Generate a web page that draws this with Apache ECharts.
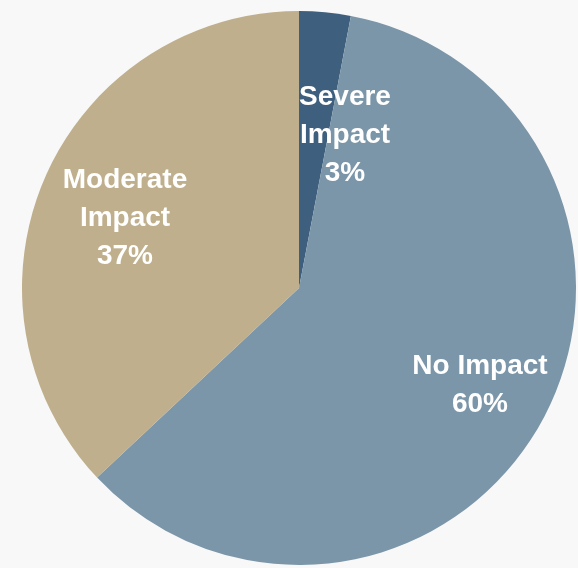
<!DOCTYPE html>
<html>
<head>
<meta charset="utf-8">
<script src="https://cdn.jsdelivr.net/npm/echarts@6/dist/echarts.min.js"></script>
<style>
html,body{margin:0;padding:0;background:#f8f8f8;}
#c{width:578px;height:568px;}
</style>
</head>
<body>
<div id="c"></div>
<script>
var categories = ["Severe\nImpact", "No Impact", "Moderate\nImpact"];
var values = [3, 60, 37];
var colors = ["#3e5f7d", "#7b96a9", "#bfaf8d"];
var labelPos = [[345, 135], [480, 385], [125, 218]];

var chart = echarts.init(document.getElementById('c'), null, {renderer: 'canvas'});
var data = categories.map(function (c, i) {
  return {name: c, value: values[i], itemStyle: {color: colors[i]}};
});
chart.setOption({
  backgroundColor: '#f8f8f8',
  animation: false,
  series: [{
    type: 'pie',
    center: [299, 288],
    radius: [0, 277],
    startAngle: 90,
    clockwise: true,
    data: data,
    itemStyle: {borderWidth: 0},
    label: {
      show: true,
      position: 'inside',
      formatter: function (p) { return p.name + '\n' + p.value + '%'; },
      color: '#ffffff',
      fontFamily: 'Liberation Sans, Arial, sans-serif',
      fontWeight: 'bold',
      fontSize: 28,
      lineHeight: 38,
      align: 'center',
      verticalAlign: 'middle'
    },
    labelLine: {show: false},
    labelLayout: function (p) {
      var pos = labelPos[p.dataIndex];
      return {x: pos[0], y: pos[1], align: 'center', verticalAlign: 'middle'};
    }
  }]
});
</script>
</body>
</html>
